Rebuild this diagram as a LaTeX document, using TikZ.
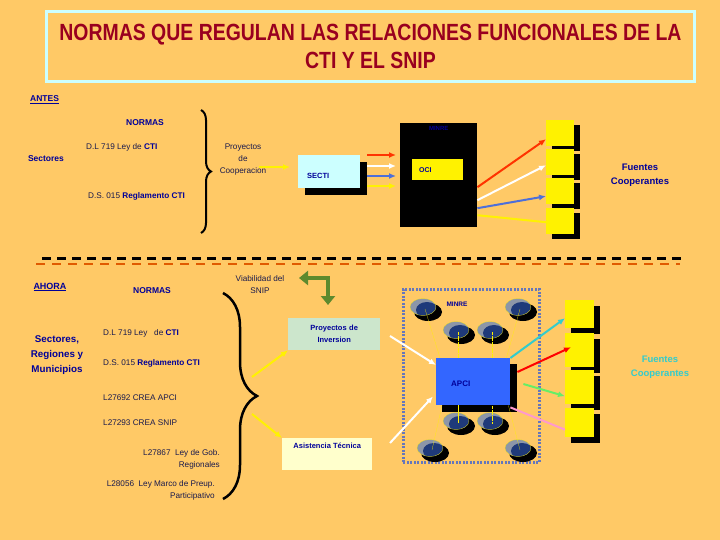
\documentclass[tikz,border=0pt]{standalone}
\usepackage{fontspec}
\setmainfont{Liberation Sans}
\usetikzlibrary{positioning,decorations.pathreplacing,arrows.meta}
\definecolor{fondo}{HTML}{FFC966}
\definecolor{titulo}{HTML}{99001F}
\definecolor{celeste}{HTML}{CCFFFF}
\definecolor{azul}{HTML}{000099}
\definecolor{tinta}{HTML}{1A1A4D}
\definecolor{rojizo}{HTML}{FF3300}
\definecolor{azulf}{HTML}{4D6FD9}
\definecolor{verde}{HTML}{5E8A2E}
\definecolor{verdeclaro}{HTML}{CCE6CC}
\definecolor{amarclaro}{HTML}{FFFFCC}
\definecolor{apciazul}{HTML}{3366FF}
\definecolor{marco}{HTML}{6677BB}
\definecolor{gris}{HTML}{8C96A8}
\definecolor{marino}{HTML}{1F3A7A}
\definecolor{naranja}{HTML}{E05A00}
\definecolor{cian}{HTML}{33CCCC}
\definecolor{rosa}{HTML}{FF99CC}
\definecolor{verdeluz}{HTML}{66EE66}
\tikzset{
  disco/.pic={
    \fill[black] (5,5) ellipse (14 and 9);
    \begin{scope}
      \clip (0,0) ellipse (13 and 8.5);
      \fill[gris] (0,0) ellipse (13 and 8.5);
      \fill[marino] (4,3) ellipse (11 and 8);
    \end{scope}
    \draw[yellow,very thin] (0,0) ellipse (13 and 8.5);
    \coordinate (-c) at (2,2);
  }
}
\begin{document}
\begin{tikzpicture}[x=1pt,y=-1pt,
  rotulo/.style={text=azul,font=\bfseries\fontsize{8.5}{10}\selectfont,inner sep=1pt},
  norma/.style={text=tinta,font=\fontsize{8.2}{12}\selectfont,inner sep=0pt},
  caja/.style={inner sep=0pt,anchor=north west},
  flecha/.style={-{Latex[length=7pt,width=6pt]},line width=2pt},
  linea/.style={line width=2pt}]
\useasboundingbox[fill=fondo] (0,0) rectangle (720,540);

%titulo
\node[caja,draw=celeste,line width=3pt,minimum width=648pt,minimum height=70pt] (tit) at (45,10) {};
\node[text=titulo,font=\bfseries\fontsize{18}{28}\selectfont,align=center] (titt) at (tit.center)
  {\scalebox{1.08}[1.3]{NORMAS QUE REGULAN LAS RELACIONES FUNCIONALES DE LA}\\\scalebox{1.08}[1.3]{CTI Y EL SNIP}};

%antes
\node[rotulo,anchor=west] (antes) at (29,100) {\underline{ANTES}};
\node[rotulo] (normas1) at (145,123) {NORMAS};
\node[rotulo] (sect1) at (46,159) {Sectores};
\node[norma,anchor=west] (dl1) at (86,147) {D.L 719 Ley de \textcolor{azul}{\textbf{CTI}}};
\node[norma,anchor=west] (ds1) at (88,196) {D.S. 015 \textcolor{azul}{\textbf{Reglamento CTI}}};
\coordinate (b1a) at (201,110);
\coordinate (b1b) at (201,233);
\draw[line width=2pt,decorate,decoration={brace,amplitude=10pt}] (b1a) -- (b1b);
\node[norma,align=center] (pcoop) at (243,160) {Proyectos\\de\\Cooperacion};

%secti y minre
\node[caja,fill=black,minimum width=62pt,minimum height=33pt] (secti-s) at (305,162) {};
\node[caja,fill=celeste,minimum width=62pt,minimum height=33pt] (secti) at (298,155) {};
\node[rotulo,font=\bfseries\fontsize{7.5}{9}\selectfont,right=8pt of secti.west,yshift=-4pt] (sectit) {SECTI};
\coordinate (a0) at (259,167);
\draw[flecha,yellow] (a0) -- ([xshift=-8pt]secti.west |- a0);
\node[caja,fill=black,minimum width=77pt,minimum height=104pt] (minre) at (400,123) {};
\node[rotulo,font=\bfseries\fontsize{6}{7}\selectfont,below=2pt of minre.north] (minret) {MINRE};
\node[caja,fill=yellow,minimum width=51pt,minimum height=21pt] (oci) at (412,159) {};
\node[rotulo,font=\bfseries\fontsize{7}{8}\selectfont,right=6pt of oci.west] (ocit) {OCI};
\foreach \y/\c in {155/rojizo,166/white,176/azulf,186/yellow}
  \draw[flecha,\c] ([yshift=-\y pt]secti-s.east |- 0,0) -- ([xshift=-4pt,yshift=-\y pt]minre.west |- 0,0);

%fuentes arriba
\foreach \i/\t in {1/120,2/149,3/178,4/208} {
  \node[caja,fill=black,minimum width=28pt,minimum height=26pt] (fa\i-s) at (552,\t+5) {};
  \node[caja,fill=yellow,minimum width=28pt,minimum height=26pt] (fa\i) at (546,\t) {};
}
\draw[flecha,rojizo] ([yshift=-12pt]minre.east) -- ([yshift=-6pt]fa1.west);
\draw[flecha,white] ([yshift=-25pt]minre.east) -- ([yshift=-3pt]fa2.west);
\draw[flecha,azulf] ([yshift=-33pt]minre.east) -- ([yshift=-5pt]fa3.west);
\draw[linea,yellow] ([yshift=-40pt]minre.east) -- ([yshift=-1pt]fa4.west);
\node[rotulo,font=\bfseries\fontsize{9.5}{14}\selectfont,align=center] (fc1) at (640,175) {Fuentes\\Cooperantes};

%separacion
\coordinate (s1) at (42,258);
\coordinate (s2) at (683,258);
\coordinate (s3) at (36,264);
\coordinate (s4) at (680,264);
\draw[line width=3pt,dash pattern=on 9pt off 6pt] (s1) -- (s2);
\draw[naranja,line width=2.5pt,dash pattern=on 9pt off 7pt] (s3) -- (s4);

%ahora
\node[rotulo,font=\bfseries\fontsize{9}{10}\selectfont] (ahora) at (50,287) {\underline{AHORA}};
\node[rotulo] (normas2) at (152,291) {NORMAS};
\node[rotulo,font=\bfseries\fontsize{9.8}{15}\selectfont,align=center] (sect2) at (57,355) {Sectores,\\Regiones y\\Municipios};
\node[norma,anchor=west] (dl2) at (103,333) {D.L 719 Ley \ \ de \textcolor{azul}{\textbf{CTI}}};
\node[norma,anchor=west] (ds2) at (103,363) {D.S. 015 \textcolor{azul}{\textbf{Reglamento CTI}}};
\node[norma,anchor=west] (l1) at (103,398) {L27692 CREA APCI};
\node[norma,anchor=west] (l2) at (103,423) {L27293 CREA SNIP};
\node[norma,align=right,anchor=east] (l3) at (220,459) {L27867 \ Ley de Gob.\\Regionales};
\node[norma,align=right,anchor=east] (l4) at (215,490) {L28056 \ Ley Marco de Preup.\\Participativo};
\coordinate (b2a) at (223,293);
\coordinate (b2b) at (223,499);
\draw[line width=2.5pt,decorate,decoration={brace,amplitude=34pt,aspect=0.5}] (b2a) -- (b2b);

%snip
\node[norma,align=center] (viab) at (260,285) {Viabilidad del\\SNIP};
\coordinate (v1) at (299,278);
\coordinate (v2) at (328,305);
\draw[verde,line width=4pt,{Triangle[length=9pt,width=14pt]}-{Triangle[length=9pt,width=14pt]}] (v1) -| (v2);
\node[caja,fill=verdeclaro,minimum width=90pt,minimum height=32pt,rotulo,font=\bfseries\fontsize{7.5}{12}\selectfont,align=center,text width=90pt] (pinv) at (288,318) {Proyectos de\\Inversion};
\node[caja,fill=amarclaro,minimum width=90pt,minimum height=32pt] (asis) at (282,438) {};
\node[rotulo,font=\bfseries\fontsize{7.5}{8}\selectfont,below=4pt of asis.north] (asist) {Asistencia Técnica};
\coordinate (y1) at (252,377);
\coordinate (y2) at (252,414);
\draw[flecha,yellow] (y1) -- (pinv.south west);
\draw[flecha,yellow] (y2) -- (asis.north west);

%minre y apci
\node[caja,draw=marco,line width=2.5pt,dash pattern=on 2pt off 1.5pt,minimum width=136pt,minimum height=173pt] (marco) at (402,288) {};
\node[caja,fill=black,minimum width=75pt,minimum height=48pt] (apci-s) at (442,364) {};
\node[caja,fill=apciazul,minimum width=74pt,minimum height=47pt] (apci) at (436,358) {};
\node[rotulo,font=\bfseries\fontsize{8}{9}\selectfont,right=14pt of apci.west,yshift=-2pt] (apcit) {APCI};
\node[rotulo,font=\bfseries\fontsize{6.5}{7}\selectfont] (minre2) at (457,304) {MINRE};
\foreach \n/\x/\y in {1/423/307,2/518/307,3/456/330,4/490/330,5/456/421,6/490/421,7/430/448,8/518/448}
  \pic (d\n) at (\x,\y) {disco};
\draw[yellow,very thin] (d1-c) -- ([xshift=4pt]apci.north west);
\draw[yellow,very thin] (d2-c) -- ([xshift=-4pt]apci.north east);
\draw[yellow,very thin,densely dotted] (d3-c) -- (d3-c |- apci.north);
\draw[yellow,very thin,densely dotted] (d4-c) -- (d4-c |- apci.north);
\draw[yellow,very thin] (d5-c) -- (d5-c |- apci.south);
\draw[yellow,very thin,densely dotted] (d6-c) -- (d6-c |- apci.south);
\draw[yellow,very thin] (d7-c) -- ([xshift=6pt]apci.south west);
\draw[yellow,very thin] (d8-c) -- ([xshift=-2pt]apci.south east);
\coordinate (w1) at (390,336);
\coordinate (w2) at (390,443);
\draw[flecha,white] (w1) -- ([yshift=-7pt]apci.north west);
\draw[flecha,white] (w2) -- ([xshift=-3pt,yshift=9pt]apci.south west);

%fuentes abajo
\foreach \i/\t/\h in {1/300/28,2/333/34,3/370/34,4/408/29} {
  \node[caja,fill=black,minimum width=29pt,minimum height=\h pt] (fb\i-s) at (571,\t+6) {};
  \node[caja,fill=yellow,minimum width=29pt,minimum height=\h pt] (fb\i) at (565,\t) {};
}
\draw[flecha,cian] (apci.north east) -- ([yshift=-4pt]fb1.west);
\draw[flecha,red] ([yshift=-8pt]apci-s.north east) -- ([xshift=6pt,yshift=3pt]fb2.west);
\draw[flecha,verdeluz] ([xshift=6pt,yshift=-20pt]apci-s.north east) -- ([yshift=-9pt]fb3.west);
\draw[linea,rosa] ([yshift=-2pt]apci.south east) -- ([yshift=-7pt]fb4.west);
\node[text=cian,font=\bfseries\fontsize{9.5}{14}\selectfont,align=center] (fc2) at (660,367) {Fuentes\\Cooperantes};
\end{tikzpicture}
\end{document}
